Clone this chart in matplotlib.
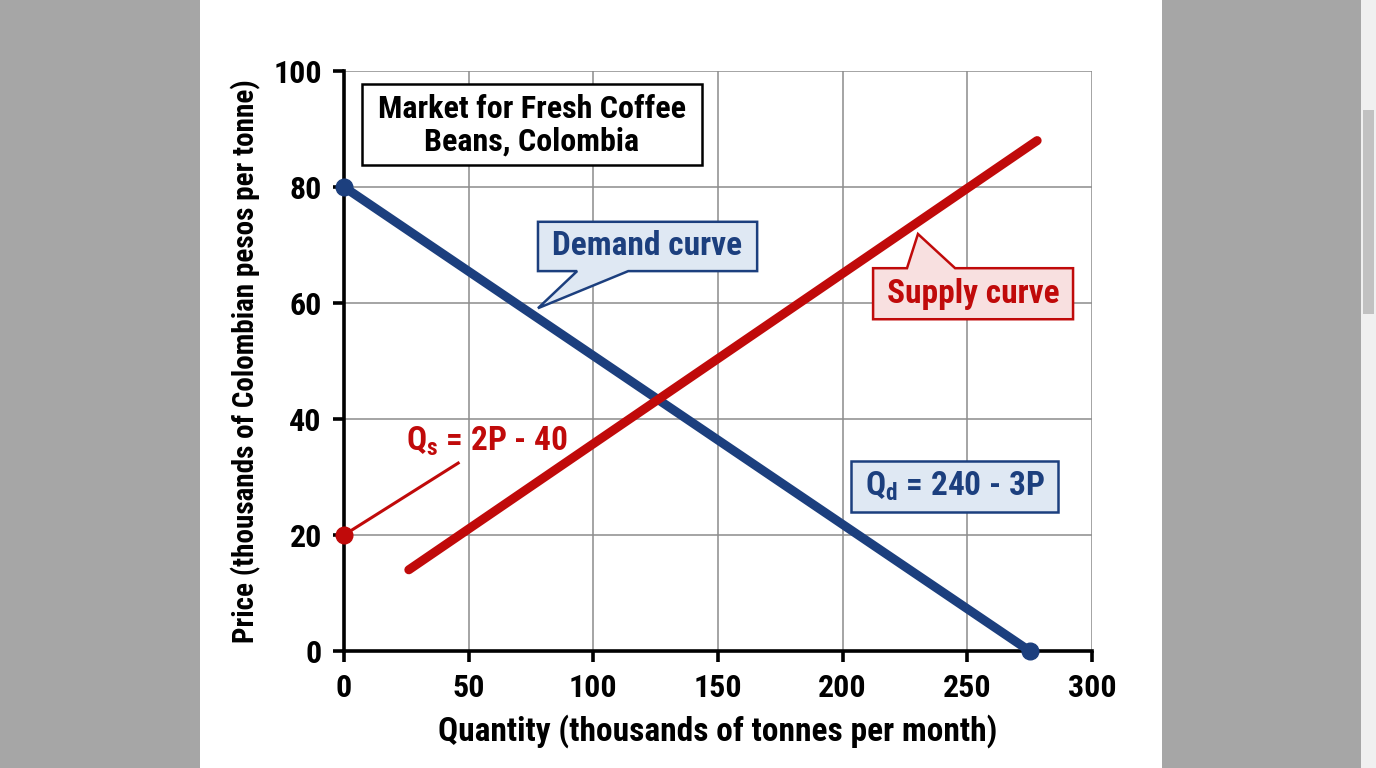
import numpy as np
import matplotlib.pyplot as plt
from matplotlib.patches import Polygon, Rectangle

# data
demand_q = [0, 275]
demand_p = [80, 0]
supply_q = [26, 278]
supply_p = [14, 88]
supply_dot = (0, 20)
x_ticks = [0, 50, 100, 150, 200, 250, 300]
y_ticks = [0, 20, 40, 60, 80, 100]

title_text = "Market for Fresh Coffee\nBeans, Colombia"
demand_label = "Demand curve"
supply_label = "Supply curve"
qs_label = r"Q$_\mathregular{s}$ = 2P - 40"
qd_label = r"Q$_\mathregular{d}$ = 240 - 3P"

BLUE = "#1c3f7e"
RED = "#c00a0a"
BLUE_FILL = "#dfe8f3"
RED_FILL = "#f8e0e0"

plt.rcParams['font.family'] = ['Roboto Condensed', 'Open Sans Condensed', 'DejaVu Sans']
plt.rcParams['font.weight'] = 'bold'
plt.rcParams['mathtext.fontset'] = 'custom'
plt.rcParams['mathtext.rm'] = 'Roboto Condensed:bold'
plt.rcParams['mathtext.default'] = 'regular'

W, H = 1376, 768
fig = plt.figure(figsize=(W / 100, H / 100), dpi=100, facecolor="#a6a6a6")

# page panel and scrollbar
fig.patches.append(Rectangle((200 / W, 0), 962 / W, 1, transform=fig.transFigure,
                             facecolor="white", edgecolor="none", zorder=-2))
fig.patches.append(Rectangle((1361 / W, 0), 15 / W, 1, transform=fig.transFigure,
                             facecolor="#f0f0f0", edgecolor="none", zorder=-2))
fig.patches.append(Rectangle((1363 / W, 1 - 314 / H), 11 / W, 204 / H, transform=fig.transFigure,
                             facecolor="#c1c1c1", edgecolor="none", zorder=-1))

ax = fig.add_axes([344 / W, 1 - 651 / H, (1092 - 344) / W, (651 - 71) / H])
ax.set_zorder(2)
ax.set_facecolor("none")
ax.set_xlim(0, 300)
ax.set_ylim(0, 100)
ax.set_xticks(x_ticks)
ax.set_yticks(y_ticks)
ax.grid(True, color="#8c8c8c", linewidth=1.1, zorder=0)
ax.set_axisbelow(True)
for s in ["top", "right"]:
    ax.spines[s].set_visible(False)
for s in ["left", "bottom"]:
    ax.spines[s].set_linewidth(2.6)
    ax.spines[s].set_zorder(3)
ax.tick_params(axis="both", length=8, width=2.6, labelsize=23, pad=8)
for lab in ax.get_xticklabels() + ax.get_yticklabels():
    lab.set_fontweight("bold")

ax.set_xlabel("Quantity (thousands of tonnes per month)", fontsize=24, fontweight="bold", labelpad=8)
ax.set_ylabel("Price (thousands of Colombian pesos per tonne)", fontsize=21, fontweight="bold", labelpad=9)

# curves
ax.plot(demand_q, demand_p, color=BLUE, linewidth=6.5, solid_capstyle="round", zorder=5, clip_on=False)
ax.plot(demand_q, demand_p, "o", color=BLUE, markersize=12, zorder=6, clip_on=False)
ax.plot(supply_q, supply_p, color=RED, linewidth=6.5, solid_capstyle="round", zorder=7, clip_on=False)
ax.plot(*supply_dot, "o", color=RED, markersize=12, zorder=8, clip_on=False)

# Qs label with leader line
ax.plot([supply_dot[0], 45.8], [supply_dot[1], 32.4], color=RED, linewidth=2.2, zorder=6, clip_on=False)
ax.text(57.5, 36.2, qs_label, color=RED, fontsize=24, fontweight="bold", ha="center", va="center", zorder=9)

# title box
ax.add_patch(Rectangle((7.2, 83.8), 136.4, 14.0, facecolor="white", edgecolor="black",
                       linewidth=1.8, zorder=4))
ax.text(75.4, 90.6, title_text, fontsize=23, fontweight="bold", ha="center", va="center",
        linespacing=1.12, zorder=5)

# demand callout
dem_poly = [(77.8, 74.0), (165.7, 74.0), (165.7, 65.5), (114.0, 65.5), (77.8, 59.1), (93.5, 65.5), (77.8, 65.5)]
ax.add_patch(Polygon(dem_poly, closed=True, facecolor=BLUE_FILL, edgecolor=BLUE, linewidth=1.8, zorder=4))
ax.text(121.7, 69.8, demand_label, color=BLUE, fontsize=24, fontweight="bold", ha="center", va="center", zorder=5)

# supply callout
sup_poly = [(212.2, 66.0), (225.8, 66.0), (230.2, 71.9), (245.1, 66.0), (292.4, 66.0), (292.4, 57.2), (212.2, 57.2)]
ax.add_patch(Polygon(sup_poly, closed=True, facecolor=RED_FILL, edgecolor=RED, linewidth=1.8, zorder=4))
ax.text(252.3, 61.6, supply_label, color=RED, fontsize=24, fontweight="bold", ha="center", va="center", zorder=5)

# Qd box
ax.add_patch(Rectangle((203.4, 24.0), 83.0, 8.8, facecolor=BLUE_FILL, edgecolor=BLUE, linewidth=1.8, zorder=4))
ax.text(244.9, 28.4, qd_label, color=BLUE, fontsize=24, fontweight="bold", ha="center", va="center", zorder=5)

fig.savefig("out.png", dpi=100, facecolor=fig.get_facecolor())
